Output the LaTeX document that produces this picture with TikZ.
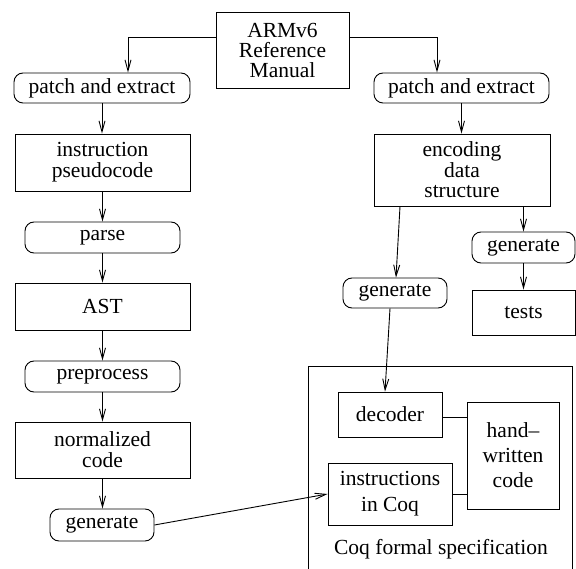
\documentclass[tikz,border=0pt]{standalone}
\usepackage{fontspec}
\setmainfont{Liberation Serif}[Ligatures=TeX]
\usetikzlibrary{arrows.meta,calc}
\begin{document}
\begin{tikzpicture}[x=1pt,y=-1pt,
  every node/.style={align=center,font=\rmfamily\fontsize{21.5}{20}\selectfont,inner sep=0pt},
  box/.style={draw,line width=0.9pt},
  proc/.style={draw,line width=0.9pt,rounded corners=9pt},
  arr/.style={line width=0.9pt,-{Straight Barb[length=11pt,width=6pt]}},
  ln/.style={line width=0.9pt}]
\useasboundingbox (0,0) rectangle (576,569);
\node[box,minimum width=133pt,minimum height=76pt] (arm) at (282.5,50) {ARMv6\\Reference\\Manual};
\node[proc,minimum width=176pt,minimum height=30pt] (pe1) at (102,88) {patch and extract};
\node[proc,minimum width=175pt,minimum height=30pt] (pe2) at (461.5,88) {patch and extract};
\node[box,minimum width=175pt,minimum height=57pt,font=\rmfamily\fontsize{21.5}{21}\selectfont] (pseudo) at (102.5,162.5) {instruction\\pseudocode};
\node[box,minimum width=176pt,minimum height=72pt,font=\rmfamily\fontsize{21.5}{20.5}\selectfont] (enc) at (462,170) {encoding\\data\\structure};
\node[proc,minimum width=155pt,minimum height=31pt] (parse) at (102.5,237.5) {parse};
\node[box,minimum width=175pt,minimum height=47pt] (ast) at (102.5,306.5) {AST};
\node[proc,minimum width=155pt,minimum height=31pt] (prep) at (102.5,376.5) {preprocess};
\node[box,minimum width=175pt,minimum height=56pt,font=\rmfamily\fontsize{21.5}{21}\selectfont] (norm) at (102.5,450) {normalized\\code};
\node[proc,minimum width=104pt,minimum height=32pt] (gen1) at (102,525) {generate};
\node[proc,minimum width=104pt,minimum height=30pt] (gen2) at (395,293) {generate};
\node[proc,minimum width=103pt,minimum height=31pt] (gen3) at (523.5,247.5) {generate};
\node[box,minimum width=103pt,minimum height=45pt] (tests) at (523.5,312.5) {tests};
\draw[ln] (308,575) -- (308,366) -- (572,366) -- (572,575);
\node[box,minimum width=104pt,minimum height=45pt] (dec) at (390,414.5) {decoder};
\node[box,minimum width=92pt,minimum height=107pt,font=\rmfamily\fontsize{21.5}{25}\selectfont] (hw) at (513,455.5) {hand--\\written\\code};
\node[box,minimum width=124pt,minimum height=62pt,font=\rmfamily\fontsize{21.5}{26}\selectfont] (inst) at (390,494) {instructions\\in Coq};
\node (spec) at (441,549) {Coq formal specification};
\draw[arr] ([yshift=13pt]arm.west) -| ([xshift=26pt]pe1.north);
\draw[arr] ([yshift=13pt]arm.east) -| ([xshift=-24.5pt]pe2.north);
\draw[arr] (pe1.south) -- (pe1.south |- pseudo.north);
\draw[arr] (pe2.south) -- (pe2.south |- enc.north);
\draw[arr] (pseudo.south) -- (pseudo.south |- parse.north);
\draw[arr] (parse.south) -- (parse.south |- ast.north);
\draw[arr] (ast.south) -- (ast.south |- prep.north);
\draw[arr] (prep.south) -- (prep.south |- norm.north);
\draw[arr] (norm.south) -- (norm.south |- gen1.north);
\draw[arr] ([xshift=-62pt]enc.south) -- ([xshift=1pt]gen2.north);
\draw[arr] (enc.south -| gen3.north) -- (gen3.north);
\draw[arr] (gen3.south) -- (gen3.south |- tests.north);
\draw[arr] ([xshift=-5pt]gen2.south) -- ([xshift=-5pt]dec.north);
\draw[arr] (gen1.east) -- (inst.west);
\draw[ln] ([yshift=-2.5pt]dec.east) -- ([yshift=-2.5pt]dec.east -| hw.west);
\draw[ln] (inst.east) -- (inst.east -| hw.west);
\end{tikzpicture}
\end{document}
